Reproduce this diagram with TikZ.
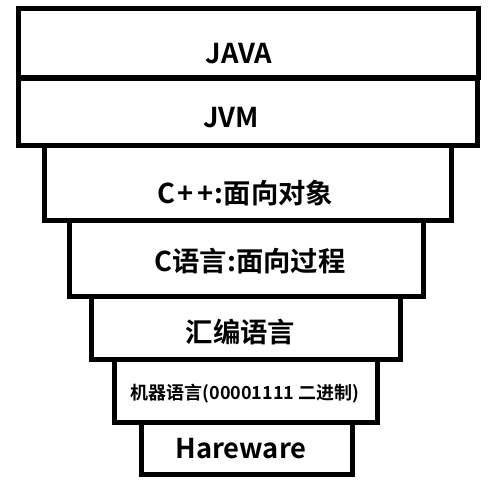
\documentclass[tikz,border=0pt]{standalone}
\usepackage{fontspec}
\setmainfont{Noto Sans CJK SC}[BoldFont=* Bold]
\usetikzlibrary{positioning}

\tikzset{
  layer/.style={draw, line width=3.75pt, color=black, rectangle,
                rounded corners=0cm, inner sep=0pt},
  layertext/.style={color=black, anchor=base, inner sep=0pt,
                    font=\bfseries\fontsize{20.5}{24}\selectfont}
}

\begin{document}
\begin{tikzpicture}[x=0.75pt, y=-0.75pt]
\useasboundingbox (0,0) rectangle (498,486);

% layers, top to bottom
\draw (248.5, 43.25) node[layer, minimum width=345pt, minimum height=52.1pt] (java) {};
\draw (239, 63) node[layertext] (javatxt) {JAVA};
\draw (248, 111.5) node[layer, minimum width=344.25pt, minimum height=50.25pt] (jvm) {};
\draw (231, 127) node[layertext] (jvmtxt) {JVM};
\draw (247.5, 183) node[layer, minimum width=305.25pt, minimum height=56.25pt] (cpp) {};
\draw (245.5, 203) node[layertext] (cpptxt) {C\kern1.5pt+\kern2.5pt+\kern1pt:面向对象};
\draw (246, 258.5) node[layer, minimum width=265.5pt, minimum height=57pt] (clang) {};
\draw (250, 271) node[layertext] (clangtxt) {C语言:面向过程};
\draw (245.5, 328.25) node[layer, minimum width=231.75pt, minimum height=46.9pt] (asm) {};
\draw (240.5, 342) node[layertext] (asmtxt) {汇编语言};
\draw (246, 391) node[layer, minimum width=197.25pt, minimum height=47.25pt] (mach) {};
\draw (245, 399) node[layertext, font=\bfseries\fontsize{13.5}{16}\selectfont] (machtxt) {机器语言(00001111 二进制)};
\draw (246.75, 448.5) node[layer, minimum width=158.6pt, minimum height=39pt] (hw) {};
\draw (241, 458) node[layertext] (hwtxt) {Hareware};
\end{tikzpicture}
\end{document}
